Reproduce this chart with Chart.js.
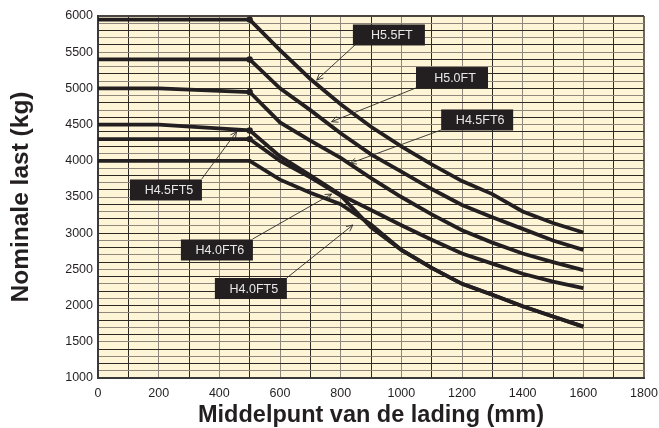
<!DOCTYPE html>
<html>
<head>
<meta charset="utf-8">
<script src="https://cdn.jsdelivr.net/npm/chart.js@4.4.1/dist/chart.umd.min.js"></script>
<style>
  html, body { margin: 0; padding: 0; background: #fff; }
</style>
</head>
<body>
<canvas id="chart" width="659" height="428"></canvas>
<script>
// load centre (mm) for every reading
const loadCenters = [0, 200, 500, 600, 700, 800, 900, 1000, 1100, 1200, 1300, 1400, 1500, 1600];

// rated load (kg) per truck
const h55ft  = [5950, 5950, 5950, 5530, 5130, 4780, 4470, 4200, 3950, 3720, 3540, 3300, 3140, 3010];
const h50ft  = [5400, 5400, 5400, 5000, 4700, 4380, 4090, 3850, 3610, 3390, 3220, 3060, 2900, 2770];
const h45ft6 = [5000, 5000, 4950, 4530, 4280, 4040, 3760, 3500, 3260, 3040, 2870, 2720, 2600, 2490];
const h45ft5 = [4500, 4500, 4420, 4060, 3800, 3530, 3320, 3110, 2910, 2720, 2580, 2440, 2330, 2240];
const h40ft6 = [4300, 4300, 4300, 4000, 3770, 3520, 3080, 2770, 2520, 2300, 2150, 1990, 1850, 1710];
const h40ft5 = [4000, 4000, 4000, 3740, 3560, 3400, 3120, 2770, 2520, 2300, 2150, 1990, 1850, 1710];

const xTicks = [0, 200, 400, 600, 800, 1000, 1200, 1400, 1600, 1800];
const yTicks = [1000, 1500, 2000, 2500, 3000, 3500, 4000, 4500, 5000, 5500, 6000];

// callouts: name, box centre, arrow start, arrow tip (mm, kg)
const calloutNames = ['H5.5FT', 'H5.0FT', 'H4.5FT6', 'H4.5FT5', 'H4.0FT6', 'H4.0FT5'];
const calloutBox   = [[959, 5738], [1167, 5150], [1250, 4564], [224, 3597], [392, 2768], [504, 2236]];
const calloutFrom  = [[847, 5599], [1048, 5006], [1131, 4425], [342, 3749], [510, 2920], [622, 2381]];
const calloutTo    = [[721, 5116], [770, 4540], [831, 3965], [457, 4402], [770, 3541], [840, 3113]];

const INK = '#231f20';
const FONT = "'Liberation Sans', Arial, sans-serif";

const series = [h55ft, h50ft, h45ft6, h45ft5, h40ft6, h40ft5];

const datasets = series.map((vals, i) => ({
    label: calloutNames[i],
    data: vals.map((v, j) => ({ x: loadCenters[j], y: v })),
    borderColor: INK,
    backgroundColor: INK,
    borderWidth: 3.8,
    tension: 0,
    pointRadius: ctx => (ctx.raw && ctx.raw.x === 500) ? (i === 5 ? 2 : 3.2) : 0,
    pointBorderWidth: 0,
    clip: false
}));

// cream plot background
const paperPlugin = {
    id: 'paper',
    beforeDraw(chart) {
        const { ctx, chartArea: a } = chart;
        ctx.save();
        ctx.fillStyle = '#fef5d6';
        ctx.fillRect(a.left, a.top, a.right - a.left, a.bottom - a.top);
        ctx.restore();
    }
};

// black label boxes with thin arrows
const calloutPlugin = {
    id: 'callouts',
    afterDatasetsDraw(chart) {
        const { ctx, scales: { x, y } } = chart;
        ctx.save();
        calloutNames.forEach((name, i) => {
            const fx = x.getPixelForValue(calloutFrom[i][0]);
            const fy = y.getPixelForValue(calloutFrom[i][1]);
            const tx = x.getPixelForValue(calloutTo[i][0]);
            const ty = y.getPixelForValue(calloutTo[i][1]);
            ctx.strokeStyle = '#2b2b2b';
            ctx.lineWidth = 0.9;
            ctx.beginPath();
            ctx.moveTo(fx, fy);
            ctx.lineTo(tx, ty);
            const ang = Math.atan2(fy - ty, fx - tx);
            const len = 7;
            ctx.moveTo(tx + len * Math.cos(ang + 0.45), ty + len * Math.sin(ang + 0.45));
            ctx.lineTo(tx, ty);
            ctx.lineTo(tx + len * Math.cos(ang - 0.45), ty + len * Math.sin(ang - 0.45));
            ctx.stroke();

            const cx = x.getPixelForValue(calloutBox[i][0]);
            const cy = y.getPixelForValue(calloutBox[i][1]);
            const w = 72, h = 21;
            ctx.fillStyle = '#231f20';
            ctx.fillRect(cx - w / 2, cy - h / 2, w, h);
            ctx.fillStyle = '#e8e8e8';
            ctx.font = '12.5px ' + FONT;
            ctx.textAlign = 'center';
            ctx.textBaseline = 'middle';
            ctx.fillText(name, cx + 3, cy + 1);
        });
        ctx.restore();
    }
};

const DARK = '#2e2925';
const GRAY = '#8f877b';

new Chart(document.getElementById('chart'), {
    type: 'line',
    data: { datasets },
    plugins: [paperPlugin, calloutPlugin],
    options: {
        responsive: false,
        animation: false,
        layout: { padding: { top: 16, right: 15, left: 0, bottom: 0 } },
        plugins: {
            legend: { display: false },
            tooltip: { enabled: false }
        },
        scales: {
            x: {
                type: 'linear',
                min: 0,
                max: 1800,
                afterBuildTicks: s => {
                    s.ticks = [];
                    for (let v = 0; v <= 1800; v += 100) s.ticks.push({ value: v });
                },
                afterFit: s => { s.height = 50; s.paddingLeft = 0; s.paddingRight = 0; },
                ticks: {
                    autoSkip: false,
                    maxRotation: 0,
                    padding: 8,
                    color: INK,
                    font: { family: FONT, size: 12.5 },
                    callback: v => xTicks.includes(v) ? String(v) : ''
                },
                grid: {
                    drawTicks: false,
                    lineWidth: c => c.tick && c.tick.value === 1800 ? 2 : 1,
                    color: c => {
                        const v = c.tick ? c.tick.value : 0;
                        if (v === 1800) return '#6e6860';
                        return (v / 100) % 2 === 1 ? DARK : GRAY;
                    }
                },
                border: { display: true, color: '#3a3a3a', width: 2 },
                title: {
                    display: true,
                    text: 'Middelpunt van de lading (mm)',
                    color: INK,
                    font: { family: FONT, size: 23.5, weight: 'bold', lineHeight: 1 },
                    padding: { top: 0, bottom: 1 }
                }
            },
            y: {
                min: 1000,
                max: 6000,
                afterBuildTicks: s => {
                    s.ticks = [];
                    for (let v = 1000; v <= 6000; v += 100) s.ticks.push({ value: v });
                },
                afterFit: s => { s.width = 98; s.paddingTop = 0; s.paddingBottom = 0; },
                ticks: {
                    autoSkip: false,
                    padding: 5,
                    color: INK,
                    font: { family: FONT, size: 12.5 },
                    callback: v => yTicks.includes(v) ? String(v) : ''
                },
                grid: {
                    drawTicks: false,
                    lineWidth: c => c.tick && c.tick.value === 6000 ? 2 : 1,
                    color: c => {
                        const v = c.tick ? c.tick.value : 0;
                        if (v === 6000) return '#4a4540';
                        return (v / 100) % 2 === 0 ? DARK : GRAY;
                    }
                },
                border: { display: true, color: '#3a3a3a', width: 2 },
                title: {
                    display: true,
                    text: 'Nominale last (kg)',
                    color: INK,
                    font: { family: FONT, size: 24.5, weight: 'bold', lineHeight: 1 },
                    padding: { top: 9, bottom: 0 }
                }
            }
        }
    }
});
</script>
</body>
</html>
